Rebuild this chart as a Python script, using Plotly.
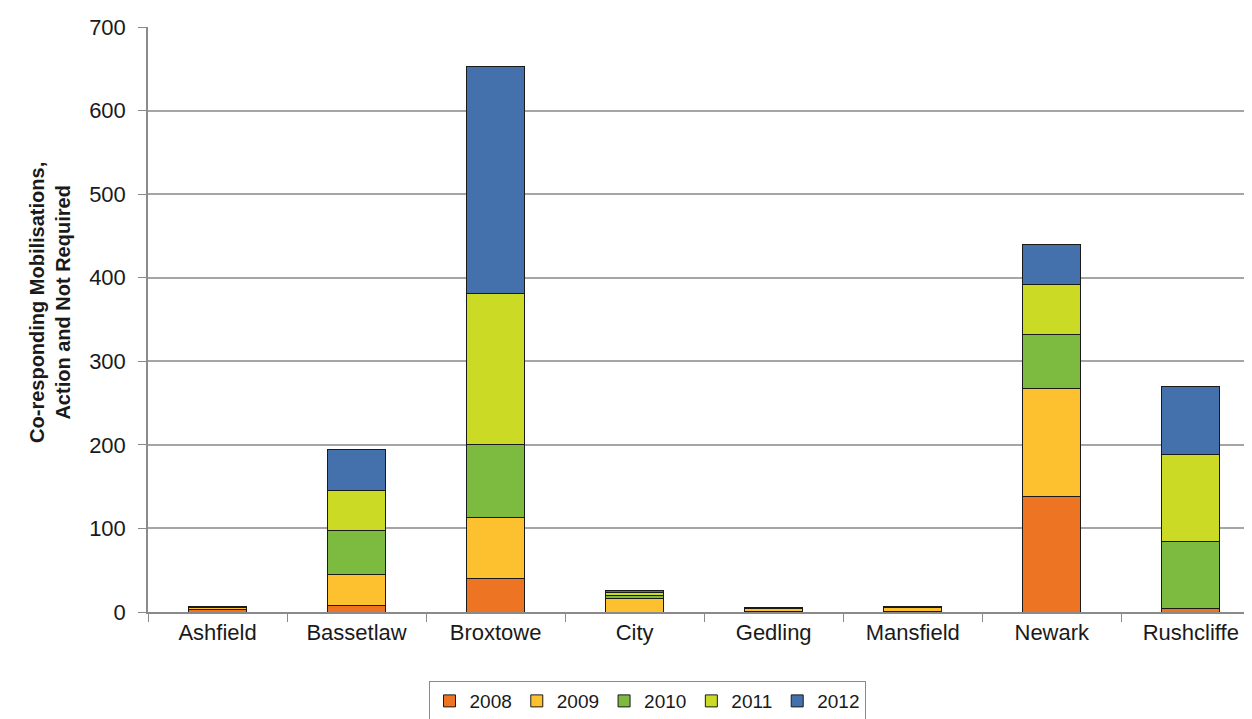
import plotly.graph_objects as go

categories = ["Ashfield", "Bassetlaw", "Broxtowe", "City", "Gedling", "Mansfield", "Newark", "Rushcliffe"]
years = ["2008", "2009", "2010", "2011", "2012"]
v2008 = [3, 8, 40, 0, 1, 1, 138, 4]
v2009 = [2, 37, 73, 16, 3, 4, 129, 0]
v2010 = [1, 53, 87, 4, 1, 1, 65, 80]
v2011 = [1, 47, 181, 3, 0, 1, 60, 105]
v2012 = [0, 49, 272, 3, 0, 0, 48, 81]
series = [v2008, v2009, v2010, v2011, v2012]
colors = ["#EC7423", "#FDC02F", "#7CBB40", "#CBDA25", "#4470AB"]
y_title = "<b>Co-responding Mobilisations,<br>Action and Not Required</b>"

fig = go.Figure()
for name, vals, c in zip(years, series, colors):
    fig.add_trace(go.Bar(
        x=categories, y=vals, name=name,
        marker=dict(color=c, line=dict(color="#1a1a1a", width=1)),
    ))

font_family = "Liberation Sans, Arial, sans-serif"
fig.update_layout(
    barmode="stack",
    bargap=0.583,
    width=1244, height=711,
    margin=dict(l=140, r=0, t=19, b=107, autoexpand=False),
    paper_bgcolor="white", plot_bgcolor="white",
    font=dict(family=font_family, size=22, color="#1a1a1a"),
    showlegend=True,
    legend=dict(
        orientation="h", x=0.452, xanchor="center", y=-0.118, yanchor="top",
        bordercolor="#8a8a8a", borderwidth=1, traceorder="normal",
        font=dict(size=19), itemwidth=30, tracegroupgap=0,
    ),
    xaxis=dict(
        range=[-0.5, 7.44],
        showline=True, linecolor="#8a8a8a", linewidth=1.5,
        ticks="outside", tickson="boundaries", ticklen=8, tickcolor="#8a8a8a",
        showgrid=False, automargin=False,
    ),
    yaxis=dict(
        range=[0, 700], dtick=100,
        showline=True, linecolor="#8a8a8a", linewidth=1.5,
        ticks="outside", ticklen=8, tickcolor="#8a8a8a",
        ticklabelstandoff=8,
        showgrid=True, gridcolor="#a5a5a5", gridwidth=1.5,
        zeroline=False, automargin=False,
    ),
    annotations=[dict(
        text=y_title, textangle=-90, xref="paper", yref="paper",
        x=-0.0888, y=0.53, xanchor="center", yanchor="middle",
        showarrow=False, font=dict(size=20, color="#1a1a1a"),
    )],
)

fig.write_html("out.html")
